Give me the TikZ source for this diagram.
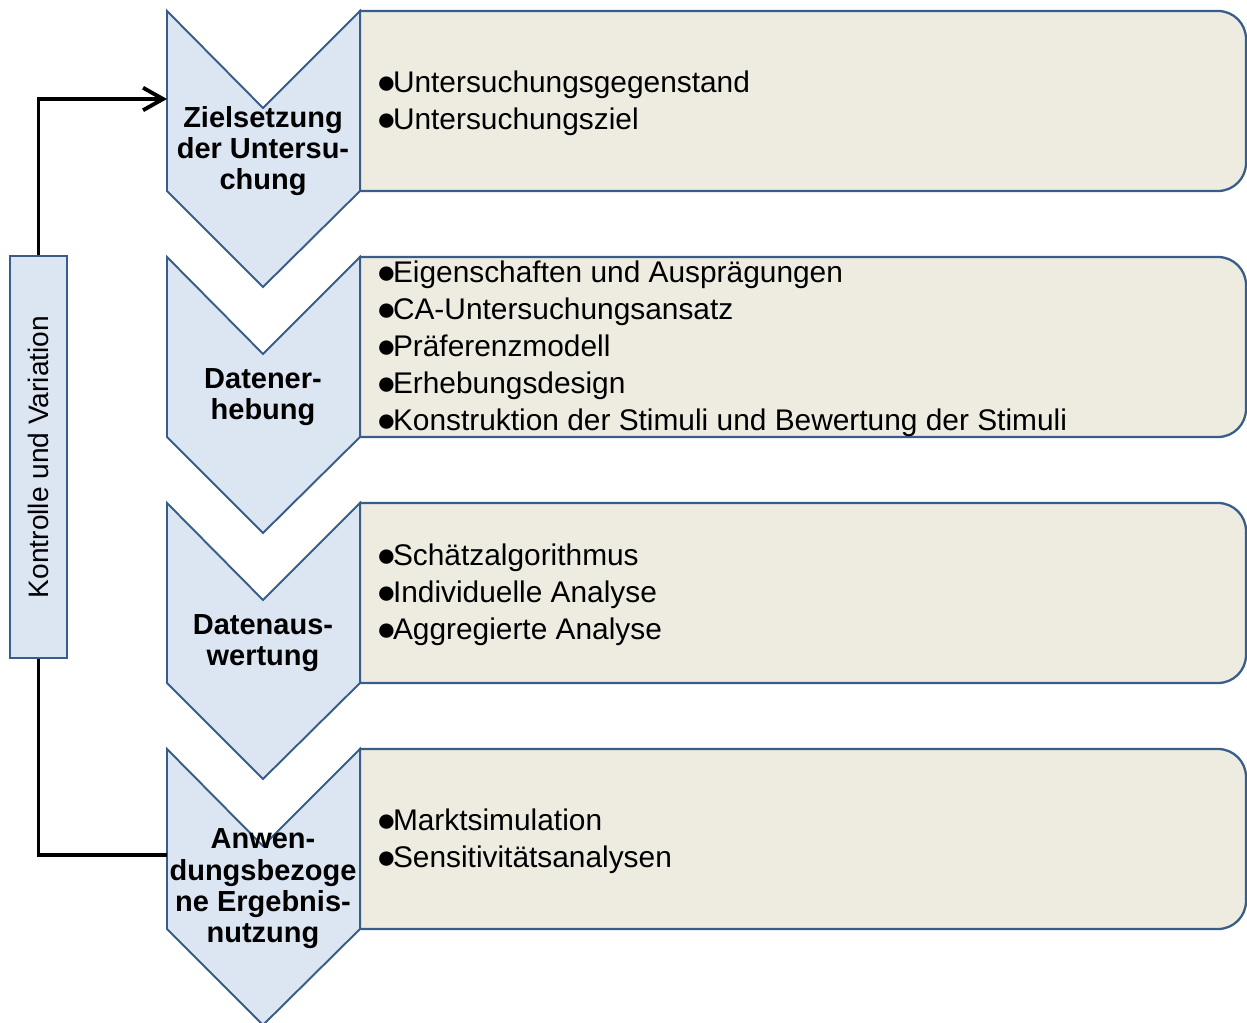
\documentclass[tikz,border=0pt]{standalone}
\usepackage{fontspec}
\setmainfont{Liberation Sans}
\usetikzlibrary{arrows.meta}
\definecolor{chevfill}{HTML}{DCE6F2}
\definecolor{chevline}{HTML}{385D8A}
\definecolor{boxfill}{HTML}{EEECE1}
\newcommand{\bul}{\raisebox{-0.5pt}{\fontsize{19}{21}\selectfont●}\kern-2pt}
\begin{document}
\begin{tikzpicture}[x=0.02cm,y=-0.02cm,
	chevron/.style={draw=chevline,fill=chevfill,line width=1.1pt,line join=miter},
	stepbox/.style={draw=chevline,fill=boxfill,line width=1.3pt},
	head/.style={font=\fontsize{16.5}{17.8}\selectfont\bfseries,align=center,inner sep=0pt},
	items/.style={font=\fontsize{17}{21}\selectfont,align=left,anchor=west,inner sep=0pt},
	ctrlbox/.style={draw=chevline,fill=chevfill,line width=1.1pt,font=\fontsize{16}{18}\selectfont,minimum width=8.04cm,minimum height=1.14cm,inner sep=0pt},
	>={Straight Barb[length=4mm,width=4.5mm]}]
\useasboundingbox (0,0) rectangle (1247,1023);
\def\h{246}
\foreach \n/\title/\list in {
	1/{Zielsetzung\\der Untersu-\\chung}/{\bul Untersuchungsgegenstand\\\bul Untersuchungsziel},
	2/{Datener-\\hebung}/{\bul Eigenschaften und Ausprägungen\\\bul CA-Untersuchungsansatz\\\bul Präferenzmodell\\\bul Erhebungsdesign\\\bul Konstruktion der Stimuli und Bewertung der Stimuli},
	3/{Datenaus-\\wertung}/{\bul Schätzalgorithmus\\\bul Individuelle Analyse\\\bul Aggregierte Analyse},
	4/{Anwen-\\dungsbezoge\\ne Ergebnis-\\nutzung}/{\bul Marktsimulation\\\bul Sensitivitätsanalysen}}{
	\pgfmathsetmacro{\t}{11+(\n-1)*\h}
	\draw[stepbox] (360,\t) [rounded corners=0.56cm] -- (1246,\t) -- (1246,\t+180) [sharp corners] -- (360,\t+180) -- cycle;
	\draw[chevron] (167,\t) -- (263,\t+97) -- (360,\t) -- (360,\t+180) -- (263,\t+276) -- (167,\t+180) -- cycle;
	\node[head] (h\n) at (263,\t+140) {\title};
	\node[items] (t\n) at (376,\t+92) {\list};}
\coordinate (w1) at (167,99);
\coordinate (w4) at (167,855);
\node[ctrlbox,rotate=90] (ctrl) at (38.5,457) {Kontrolle und Variation};
\draw[line width=2.2pt,->] (ctrl.east) |- (w1);
\draw[line width=2.2pt] (ctrl.west) |- (w4);
\end{tikzpicture}
\end{document}
